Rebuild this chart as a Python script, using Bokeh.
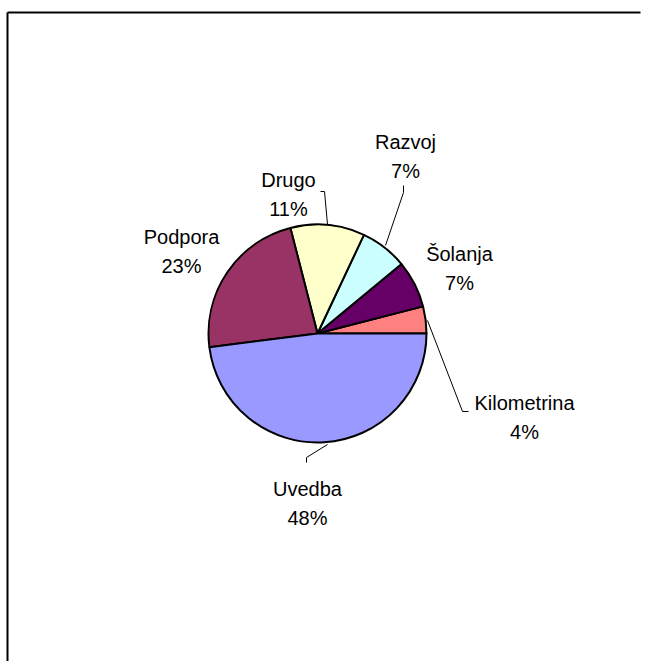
import numpy as np
from bokeh.plotting import figure
from bokeh.models import Range1d, ColumnDataSource
from bokeh.core.properties import value
from bokeh.embed import file_html
from bokeh.resources import INLINE

# Data (counter-clockwise from 3 o'clock)
categories = ["Kilometrina", "Šolanja", "Razvoj", "Drugo", "Podpora", "Uvedba"]
percents = [4, 7, 7, 11, 23, 48]
colors = ["#FF8080", "#660066", "#CCFFFF", "#FFFFCC", "#993366", "#9999FF"]

W, H = 649, 661
p = figure(width=W, height=H, output_backend="svg", toolbar_location=None,
           x_range=Range1d(0, W), y_range=Range1d(0, H),
           min_border=0, min_border_left=0, min_border_right=0,
           min_border_top=0, min_border_bottom=0)
p.axis.visible = False
p.grid.visible = False
p.outline_line_color = None
p.background_fill_color = "white"
p.border_fill_color = "white"

def Y(py):
    return H - py

# Frame of the chart area (open at right and bottom)
p.line([7, 7], [Y(H + 5), Y(12)], line_color="#000000", line_width=2)
p.line([7, 640], [Y(12), Y(12)], line_color="#000000", line_width=2)

# Pie
cx, cy, r = 317, Y(333), 109
frac = np.array(percents, dtype=float) / sum(percents)
ends = np.cumsum(frac) * 2 * np.pi
starts = np.concatenate([[0.0], ends[:-1]])
src = ColumnDataSource(dict(start=starts, end=ends, color=colors, cat=categories))
p.wedge(x=cx, y=cy, radius=r, start_angle="start", end_angle="end",
        direction="anticlock", fill_color="color", line_color="black",
        line_width=2, source=src)

# Leader lines
leaders = [
    [(403, 185), (403, 192), (385, 245)],   # Razvoj
    [(320, 191), (324, 191), (327, 224)],   # Drugo
    [(427, 320), (462, 411), (468, 411)],   # Kilometrina
    [(327, 444), (306, 457), (306, 462)],   # Uvedba
]
for pts in leaders:
    p.line([a for a, b in pts], [Y(b) for a, b in pts], line_color="black", line_width=1)

# Labels: (center x, baseline of first line)
label_pos = {
    "Kilometrina": (524, 402),
    "Šolanja": (459, 253),
    "Razvoj": (405, 141),
    "Drugo": (288, 179),
    "Podpora": (181, 236),
    "Uvedba": (307, 488),
}
for cat, pct in zip(categories, percents):
    lx, ly = label_pos[cat]
    p.text(x=[lx, lx], y=[Y(ly), Y(ly + 29)], text=[cat, f"{pct}%"],
           text_font=value("Liberation Sans"), text_font_size="20px",
           text_align="center", text_baseline="alphabetic", text_color="black")

open("out.html", "w").write(file_html(p, INLINE))
